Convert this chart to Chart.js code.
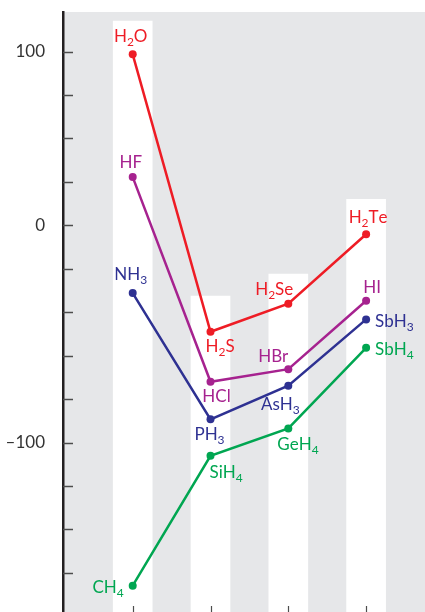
<!DOCTYPE html>
<html>
<head>
<meta charset="utf-8">
<script src="https://cdn.jsdelivr.net/npm/chart.js@4.4.1/dist/chart.umd.min.js"></script>
<style>
  html, body { margin:0; padding:0; background:#fff; }
  #wrap { width:425px; height:612px; }
</style>
</head>
<body>
<div id="wrap"><canvas id="bp__graph" width="425" height="612"></canvas></div>
<script>
// boiling points of the hydrides, in axis units (one tick step = 20)

const groups = [0, 1, 2, 3];
const column__tops = [94, -32.6, -22.4, 12];

const names__red = ['H2O', 'H2S', 'H2Se', 'H2Te'];
const values__red = [78.7, -49, -36.1, -4.1];

const names__purple = ['HF', 'HCl', 'HBr', 'HI'];
const values__purple = [22.2, -72, -66.2, -34.7];

const names__blue = ['NH3', 'PH3', 'AsH3', 'SbH3'];
const values__blue = [-31.2, -89.3, -73.8, -43.3];

const names__green = ['CH4', 'SiH4', 'GeH4', 'SbH4'];
const values__green = [-165.9, -106.1, -93.5, -56.4];

const yTicks = [-160, -140, -120, -100, -80, -60, -40, -20, 0, 20, 40, 60, 80];
const yTickLabels = {'80': '100', '0': '0', '-100': '\u2013100'};

const yMin = -178, yMax = 98.2;

// label placement per point: [dx, dy, align]
const place__red = [[-2, -12, 'center'], [-5, 20, 'left'], [5, -9, 'right'], [2, -11, 'center']];
const place__purple = [[-2, -9, 'center'], [6, 20, 'center'], [0, -7, 'right'], [6, -8, 'center']];
const place__blue = [[-2, -13, 'center'], [-1, 21, 'center'], [-8, 24, 'center'], [9, 8, 'left']];
const place__green = [[-9, 7, 'right'], [-1, 22, 'left'], [-11, 22, 'left'], [9, 7, 'left']];

const FONT = 'Lato';

function lineSet(names, values, color, place) {
  return {
    type: 'line',
    label: names.join(','),
    names: names,
    place: place,
    data: groups.map((g, i) => ({x: g, y: values[i]})),
    borderColor: color,
    backgroundColor: color,
    borderWidth: 2.5,
    pointRadius: 4,
    pointBorderWidth: 0,
    pointBackgroundColor: color,
    tension: 0,
    order: 1
  };
}

function drawFormula(ctx, text, x, y, align, color) {
  const big = '17px ' + FONT, small = '12px ' + FONT;
  let parts = [], w = 0;
  for (const ch of text) {
    const sub = /\d/.test(ch);
    ctx.font = sub ? small : big;
    const cw = ctx.measureText(ch).width;
    parts.push({ch, sub, cw});
    w += cw;
  }
  let sx = align === 'left' ? x : align === 'right' ? x - w : x - w / 2;
  ctx.fillStyle = color;
  ctx.textAlign = 'left';
  ctx.textBaseline = 'alphabetic';
  for (const p of parts) {
    ctx.font = p.sub ? small : big;
    ctx.fillText(p.ch, sx, p.sub ? y + 4 : y);
    sx += p.cw;
  }
}

const panel = {
  id: 'panel',
  beforeDraw(chart) {
    const {ctx, chartArea: a} = chart;
    ctx.save();
    ctx.fillStyle = '#e6e7e9';
    ctx.fillRect(a.left, a.top, a.right - a.left, a.bottom - a.top);
    ctx.restore();
  }
};

const marks = {
  id: 'marks',
  afterDatasetsDraw(chart) {
    const {ctx, chartArea: a, scales} = chart;
    ctx.save();
    // inner y ticks
    ctx.strokeStyle = '#4d4d4d';
    ctx.lineWidth = 1.5;
    yTicks.forEach(v => {
      const y = Math.round(scales.y.getPixelForValue(v)) + 0.5;
      ctx.beginPath(); ctx.moveTo(a.left, y); ctx.lineTo(a.left + 10, y); ctx.stroke();
    });
    // bottom ticks
    ctx.lineWidth = 1.2;
    groups.forEach(g => {
      const x = Math.round(scales.x.getPixelForValue(g)) + 0.5;
      ctx.beginPath(); ctx.moveTo(x, a.bottom - 6); ctx.lineTo(x, a.bottom); ctx.stroke();
    });
    // formula labels
    chart.data.datasets.forEach((ds, i) => {
      if (!ds.names) return;
      const meta = chart.getDatasetMeta(i);
      meta.data.forEach((pt, j) => {
        const [dx, dy, al] = ds.place[j];
        drawFormula(ctx, ds.names[j], pt.x + dx, pt.y + dy, al, ds.borderColor);
      });
    });
    ctx.restore();
  }
};

const config = {
  data: {
    datasets: [
      lineSet(names__red, values__red, '#ee1c25', place__red),
      lineSet(names__purple, values__purple, '#a6228f', place__purple),
      lineSet(names__blue, values__blue, '#2e3192', place__blue),
      lineSet(names__green, values__green, '#00a651', place__green),
      {
        type: 'bar',
        label: 'columns',
        data: groups.map((g, i) => ({x: g, y: [yMin, column__tops[i]]})),
        backgroundColor: '#ffffff',
        borderWidth: 0,
        barThickness: 39,
        order: 10
      }
    ]
  },
  options: {
    responsive: false,
    animation: false,
    layout: {autoPadding: false, padding: {top: 12, right: 0, bottom: 0, left: 0}},
    plugins: {legend: {display: false}, tooltip: {enabled: false}},
    scales: {
      x: {type: 'linear', min: -0.896, max: 3.757, offset: false, grid: {offset: false}, display: false},
      y: {
        type: 'linear',
        min: yMin,
        max: yMax,
        afterBuildTicks: s => { s.ticks = yTicks.map(v => ({value: v})); },
        afterFit: s => { s.width = 63; s.paddingTop = 0; s.paddingBottom = 0; },
        grid: {display: false, drawTicks: false},
        border: {display: true, color: '#231f20', width: 2.5},
        ticks: {
          padding: 18,
          color: '#333333',
          font: {family: FONT, size: 17},
          callback: v => yTickLabels[String(v)] ?? ''
        }
      }
    }
  },
  plugins: [panel, marks]
};

const myChart = new Chart(document.getElementById('bp__graph'), config);
</script>
</body>
</html>
